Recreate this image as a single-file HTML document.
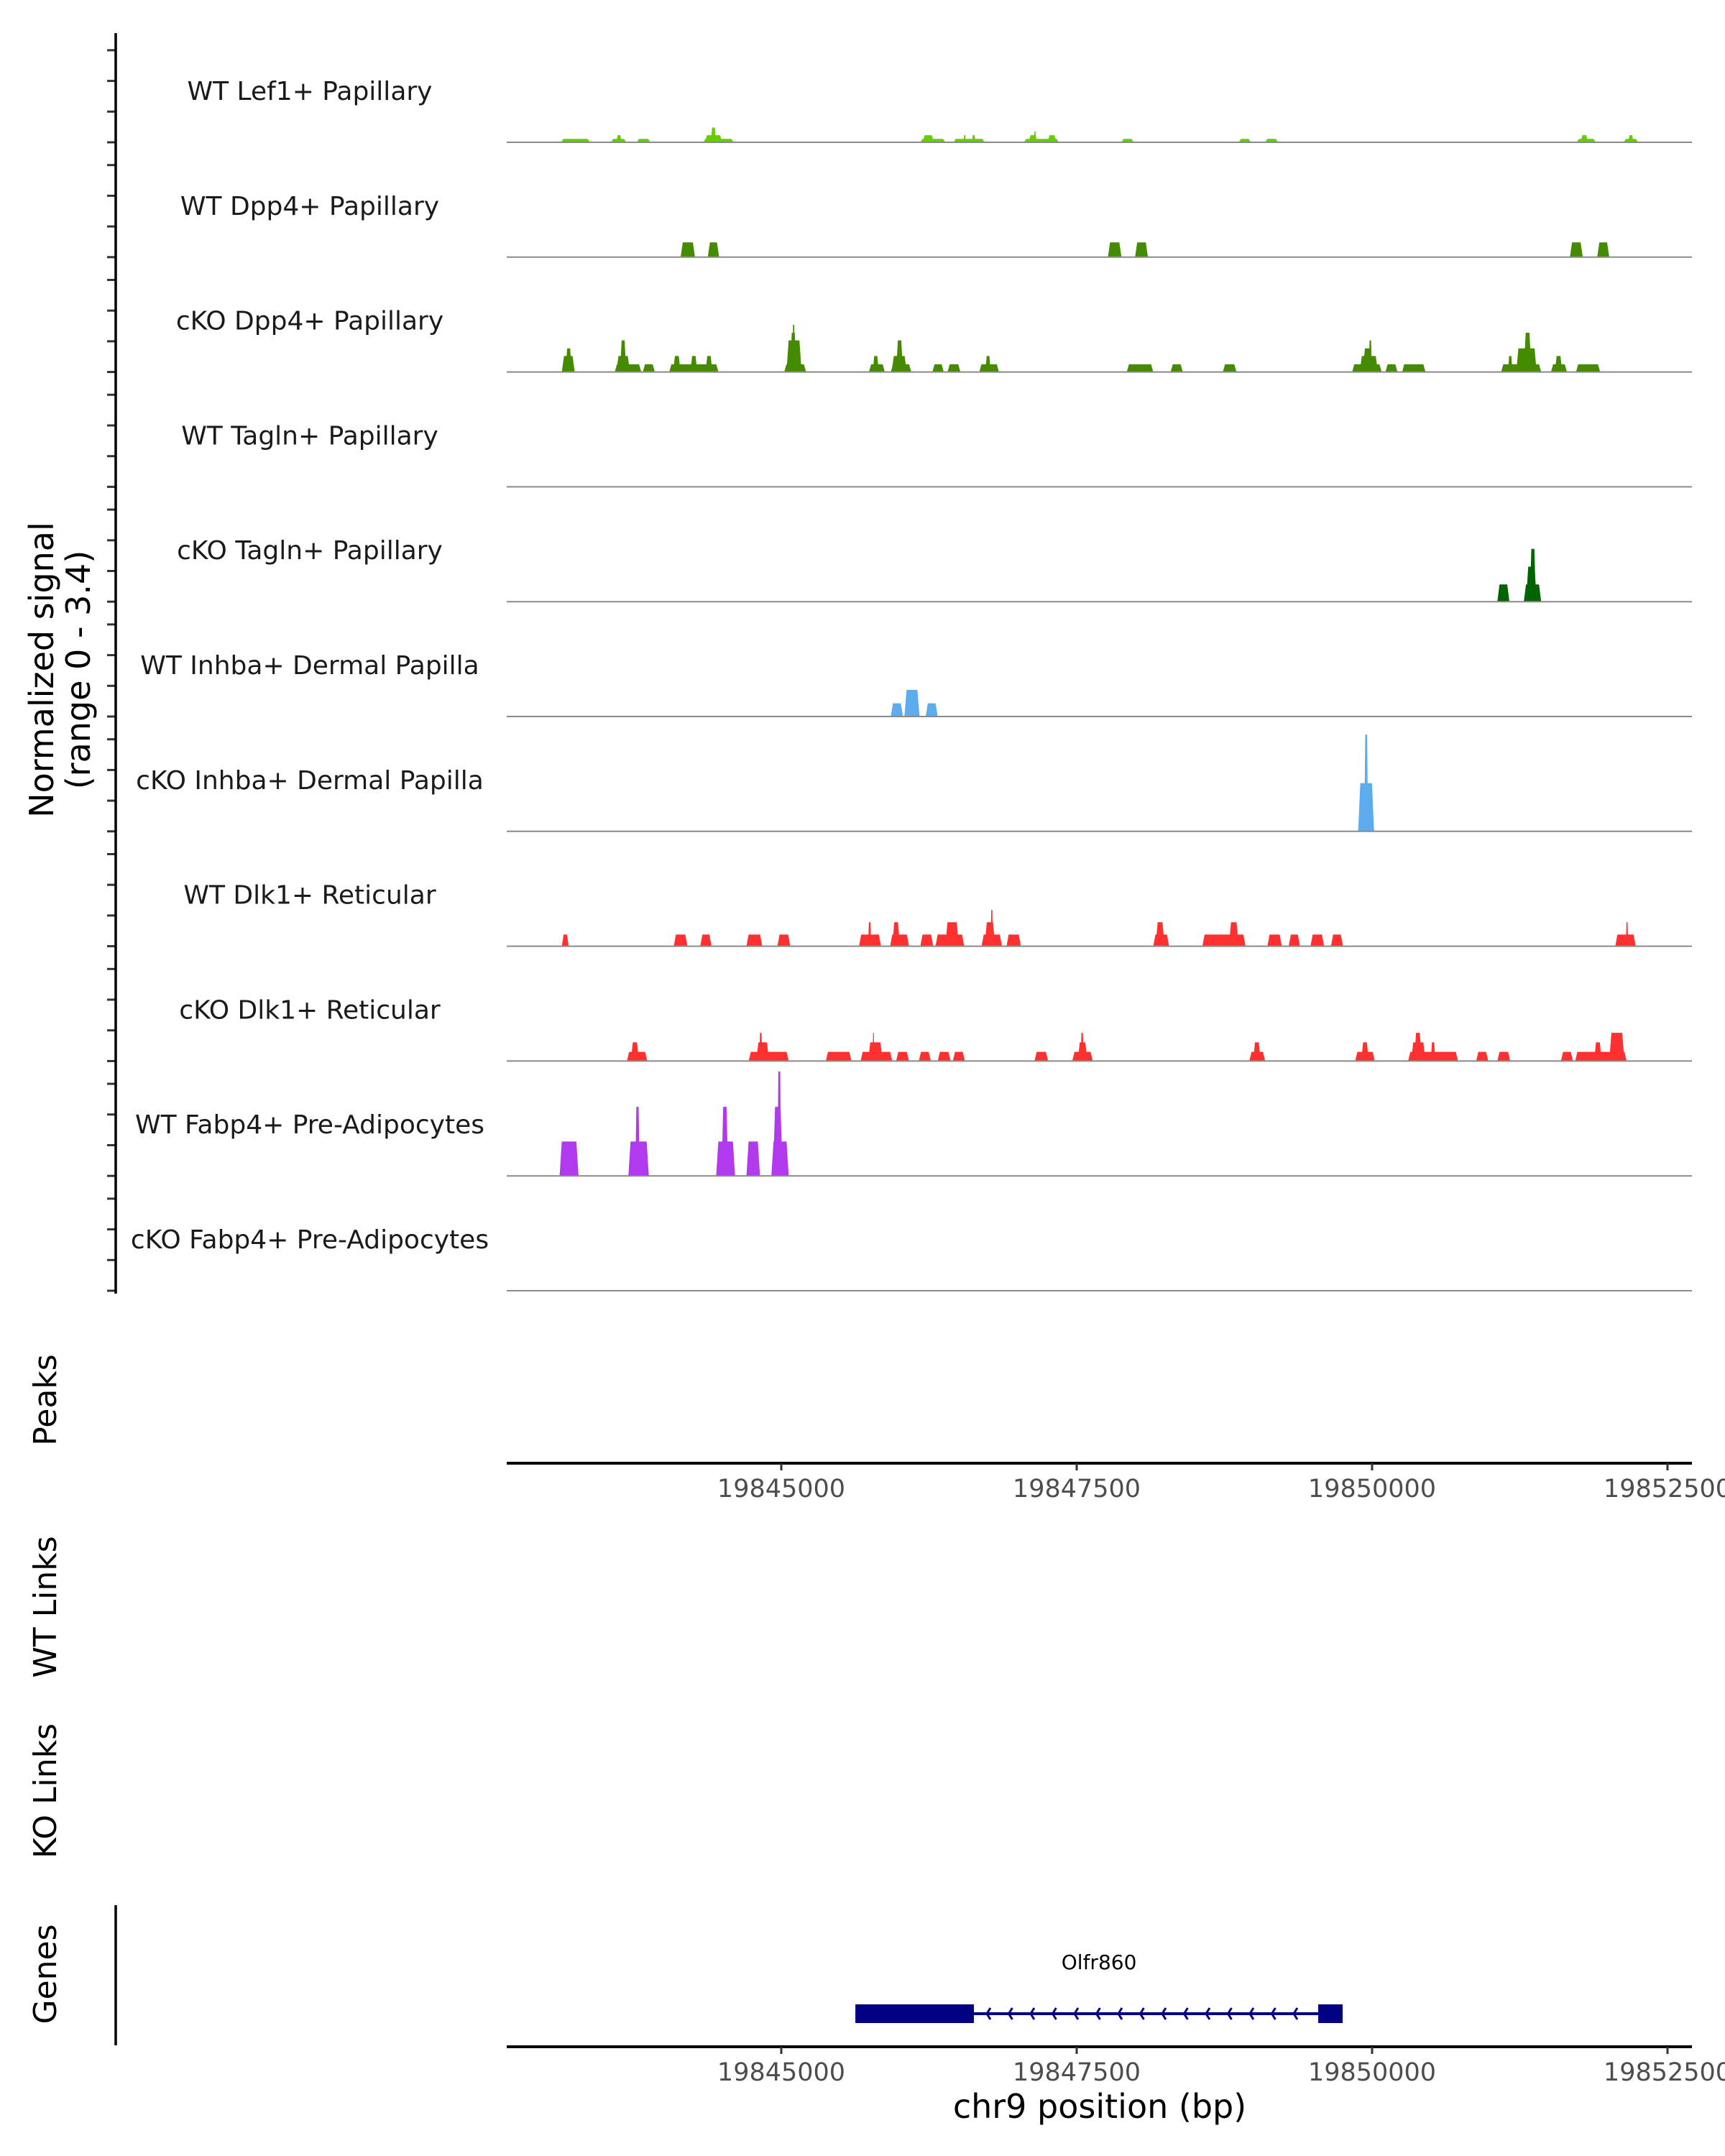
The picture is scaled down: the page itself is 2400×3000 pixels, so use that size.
<!DOCTYPE html>
<html><head><meta charset="utf-8"><style>
html,body{margin:0;padding:0;background:#fff;}
svg{display:block;font-family:"DejaVu Sans","Liberation Sans",sans-serif;}
</style></head><body>
<svg id="chart" width="2400" height="3000" viewBox="0 0 2400 3000" xmlns="http://www.w3.org/2000/svg">
<rect width="2400" height="3000" fill="#fff"/>
<g id="tracks"></g>
<g id="axes"></g>
<text transform="translate(74,932) rotate(-90)" text-anchor="middle" font-size="46" fill="#000"><tspan x="0" dy="0">Normalized signal</tspan><tspan x="0" dy="51">(range 0 - 3.4)</tspan></text>
<text transform="translate(78,1948) rotate(-90)" text-anchor="middle" font-size="44">Peaks</text>
<text transform="translate(78,2236) rotate(-90)" text-anchor="middle" font-size="44">WT Links</text>
<text transform="translate(78,2492) rotate(-90)" text-anchor="middle" font-size="44">KO Links</text>
<text transform="translate(78,2747) rotate(-90)" text-anchor="middle" font-size="44">Genes</text>
<text x="1530" y="2947" text-anchor="middle" font-size="46">chr9 position (bp)</text>
</svg>
<script>
const trackNames = ["WT Lef1+ Papillary","WT Dpp4+ Papillary","cKO Dpp4+ Papillary","WT Tagln+ Papillary","cKO Tagln+ Papillary","WT Inhba+ Dermal Papilla","cKO Inhba+ Dermal Papilla","WT Dlk1+ Reticular","cKO Dlk1+ Reticular","WT Fabp4+ Pre-Adipocytes","cKO Fabp4+ Pre-Adipocytes"];
const trackColors = ["#66CC00","#458B00","#458B00","#458B00","#006400","#5CACEE","#5CACEE","#FF3030","#FF3030","#B23AEE","#B23AEE"];
const xTicks = [19845000,19847500,19850000,19852500];
// signal blocks: [start bp, end bp, value]
const sigWTLef1 = [[19843137,19843380,.11],[19843559,19843687,.11],[19843604,19843649,.23],[19843777,19843892,.11],[19844340,19844596,.11],[19844353,19844500,.23],[19844404,19844449,.48],[19846177,19846388,.11],[19846196,19846292,.23],[19846458,19846721,.11],[19846542,19846561,.23],[19846612,19846644,.23],[19847054,19847348,.11],[19847092,19847169,.23],[19847137,19847156,.36],[19847252,19847329,.23],[19847879,19847982,.11],[19848871,19848974,.11],[19849095,19849204,.11],[19851732,19851892,.11],[19851764,19851828,.23],[19852129,19852250,.11],[19852167,19852212,.23]];
const sigWTDpp4 = [[19844148,19844270,.48],[19844378,19844474,.48],[19847764,19847879,.48],[19847994,19848103,.48],[19851674,19851783,.48],[19851905,19852007,.48]];
const sigKODpp4 = [[19843143,19843252,.52],[19843175,19843226,.77],[19843591,19843815,.25],[19843604,19843719,.52],[19843636,19843687,1.03],[19843828,19843930,.25],[19844052,19844468,.25],[19844084,19844148,.52],[19844231,19844289,.52],[19844359,19844417,.52],[19845025,19845210,.25],[19845044,19845172,1.03],[19845076,19845127,1.28],[19845095,19845114,1.54],[19845742,19845876,.25],[19845774,19845825,.52],[19845927,19846100,.25],[19845934,19846062,.52],[19845972,19846030,1.03],[19846279,19846375,.25],[19846407,19846516,.25],[19846676,19846842,.25],[19846727,19846772,.52],[19847924,19848148,.25],[19848295,19848398,.25],[19848737,19848852,.25],[19849831,19850081,.25],[19849895,19850049,.52],[19849921,19850004,.77],[19849972,19849998,1.03],[19850113,19850215,.25],[19850254,19850452,.25],[19851092,19851431,.25],[19851150,19851188,.52],[19851220,19851393,.77],[19851284,19851348,1.28],[19851514,19851649,.25],[19851546,19851610,.52],[19851726,19851930,.25]];
const sigWTTagln = [];
const sigKOTagln = [[19851060,19851162,.56],[19851284,19851431,.56],[19851303,19851393,1.14],[19851335,19851386,1.72]];
const sigWTInhba = [[19845927,19846030,.43],[19846042,19846170,.87],[19846222,19846324,.43]];
const sigKOInhba = [[19849882,19850017,1.57],[19849934,19849966,3.15]];
const sigWTDlk1 = [[19843143,19843201,.38],[19844090,19844206,.38],[19844314,19844410,.38],[19844705,19844839,.38],[19844967,19845076,.38],[19845658,19845844,.38],[19845735,19845761,.78],[19845921,19846081,.38],[19845940,19846004,.78],[19846177,19846286,.38],[19846305,19846548,.38],[19846388,19846503,.78],[19846695,19846868,.38],[19846721,19846810,.78],[19846772,19846791,1.18],[19846906,19847028,.38],[19848148,19848282,.38],[19848167,19848244,.78],[19848564,19848929,.38],[19848788,19848871,.78],[19849114,19849236,.38],[19849294,19849390,.38],[19849479,19849594,.38],[19849652,19849754,.38],[19852058,19852231,.38],[19852148,19852167,.78]];
const sigKODlk1 = [[19843694,19843866,.30],[19843726,19843796,.61],[19844724,19845063,.30],[19844788,19844897,.61],[19844814,19844839,.92],[19845377,19845594,.30],[19845671,19845940,.30],[19845735,19845857,.61],[19845774,19845787,.92],[19845972,19846081,.30],[19846164,19846266,.30],[19846324,19846433,.30],[19846452,19846554,.30],[19847143,19847258,.30],[19847463,19847636,.30],[19847508,19847591,.61],[19847534,19847559,.92],[19848961,19849095,.30],[19848993,19849057,.61],[19849857,19850023,.30],[19849908,19849972,.61],[19850305,19850727,.30],[19850330,19850452,.61],[19850356,19850420,.92],[19850497,19850535,.61],[19850881,19850983,.30],[19851060,19851169,.30],[19851598,19851700,.30],[19851719,19852154,.30],[19851879,19851943,.61],[19852007,19852135,.92]];
const sigWTFabp4 = [[19843124,19843284,1.12],[19843706,19843879,1.12],[19843764,19843802,2.25],[19844449,19844609,1.12],[19844494,19844551,2.25],[19844705,19844820,1.12],[19844916,19845063,1.12],[19844929,19845012,2.25],[19844967,19844999,3.4]];
const sigKOFabp4 = [];
const geneName = "Olfr860";
const geneStart = 19845627, geneEnd = 19849751;
const geneExons = [[19845627,19846630],[19849544,19849751]];

const NS = "http://www.w3.org/2000/svg";
const X0 = 1087, PXPER = 411/2500;
function xs(bp){ return X0 + (bp - 19845000) * PXPER; }
const B0 = 198, TSTEP = 159.8, UNIT = 42.7;
function ys(i, v){ return B0 + i*TSTEP - v*UNIT; }
function mk(tag, attrs, parent){ const e = document.createElementNS(NS, tag); for (const k in attrs) e.setAttribute(k, attrs[k]); parent.appendChild(e); return e; }
const tracksG = document.getElementById('tracks');
const axesG = document.getElementById('axes');
const allSignals = [sigWTLef1,sigWTDpp4,sigKODpp4,sigWTTagln,sigKOTagln,sigWTInhba,sigKOInhba,sigWTDlk1,sigKODlk1,sigWTFabp4,sigKOFabp4];

trackNames.forEach((name, i) => {
  const g = mk('g', {}, tracksG);
  
  
  allSignals[i].forEach(b => {
    const x1 = xs(b[0]), x2 = xs(b[1]), y0 = ys(i, 0), y1 = ys(i, b[2]);
    const s = Math.min(3, (x2 - x1) / 4);
    const p = mk('polygon', {points: `${x1},${y0} ${x1+s},${y1} ${x2-s},${y1} ${x2},${y0}`, fill: trackColors[i]}, g);
    
    
  });
  const bl = mk('line', {x1: 705, x2: 2354, y1: ys(i,0), y2: ys(i,0), stroke: '#8a8a8a', 'stroke-width': 2}, g);
  
  
  const t = mk('text', {x: 431, y: ys(i,0) - 59, 'text-anchor': 'middle', 'font-size': 36, fill: '#1a1a1a'}, g);
  t.textContent = name;
  
  
  for (let k = 0; k < 4; k++) {
    const tk = mk('line', {x1: 149, x2: 160, y1: ys(i,k), y2: ys(i,k), stroke: '#333', 'stroke-width': 3}, axesG);
    
    
  }
});
const ya = mk('line', {x1: 161, x2: 161, y1: 46, y2: 1800, stroke: '#000', 'stroke-width': 3.5}, axesG);


const ga = mk('line', {x1: 161, x2: 161, y1: 2651, y2: 2846, stroke: '#000', 'stroke-width': 3.5}, axesG);



[2036, 2848].forEach((ay, j) => {
  const l = mk('line', {x1: 705, x2: 2354, y1: ay, y2: ay, stroke: '#000', 'stroke-width': 4}, axesG);
  
  
  xTicks.forEach(v => {
    const tk = mk('line', {x1: xs(v), x2: xs(v), y1: ay, y2: ay + 10, stroke: '#333', 'stroke-width': 3}, axesG);
    
    
    const tl = mk('text', {x: xs(v), y: ay + 47, 'text-anchor': 'middle', 'font-size': 35, fill: '#4d4d4d'}, axesG);
    tl.textContent = String(v);
    
    
  });
});

const gg = mk('g', {}, tracksG);


const gl = mk('line', {x1: xs(geneStart), x2: xs(geneEnd), y1: 2802, y2: 2802, stroke: '#000080', 'stroke-width': 4}, gg);


geneExons.forEach(e => {
  const r = mk('rect', {x: xs(e[0]), y: 2789, width: xs(e[1]) - xs(e[0]), height: 26, fill: '#000080'}, gg);
  
  
});
for (let ax = xs(geneExons[0][1]) + 18; ax < xs(geneExons[1][0]) - 5; ax += 30.5) {
  const a = mk('polyline', {points: `${ax+5},${2794} ${ax},${2802} ${ax+5},${2810}`, fill: 'none', stroke: '#000080', 'stroke-width': 3}, gg);
  
  
}
const gt = mk('text', {x: (xs(geneStart) + xs(geneEnd)) / 2, y: 2740, 'text-anchor': 'middle', 'font-size': 28, fill: '#000'}, gg);
gt.textContent = geneName;


</script>
</body></html>
